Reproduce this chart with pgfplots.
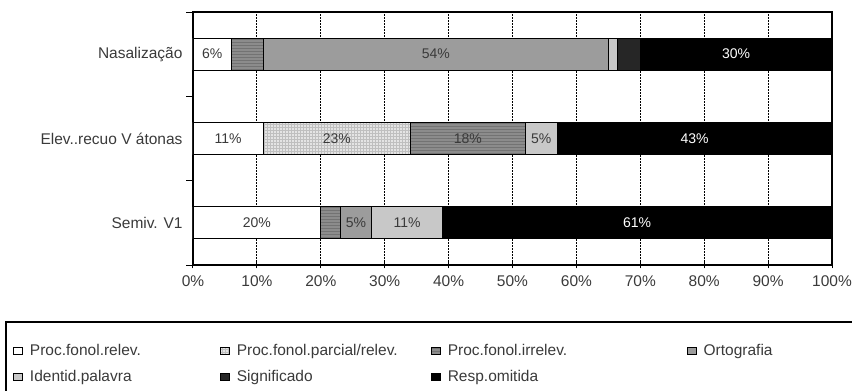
\documentclass[border=0pt]{standalone}
\usepackage{pgfplots}
\pgfplotsset{compat=1.18}
\usetikzlibrary{patterns}
\usepackage{fontspec}
\setmainfont{Liberation Sans}
\definecolor{txt}{HTML}{3A3A3A}
\definecolor{parc}{HTML}{E4E4E4}
\definecolor{irr}{HTML}{8C8C8C}
\definecolor{orto}{HTML}{9C9C9C}
\definecolor{ident}{HTML}{C8C8C8}
\definecolor{signif}{HTML}{262626}
\begin{document}
\begin{tikzpicture}[x=1pt,y=1pt]
\clip (0,0) rectangle (852,391);
\path[use as bounding box] (0,0) rectangle (852,391);
\begin{axis}[
  at={(193pt,126pt)}, anchor=south west,
  scale only axis, width=639pt, height=253pt,
  xbar stacked, bar width=0.38,
  xmin=0, xmax=100, ymin=-0.5, ymax=2.5,
  axis line style={line width=1.3pt},
  xtick={0,10,...,100},
  xticklabel={\pgfmathprintnumber{\tick}\%},
  /pgf/number format/assume math mode=true,
  ytick={-0.5,0.5,1.5,2.5}, yticklabels={},
  extra y ticks={0,1,2},
  extra y tick labels={Semiv. V1, Elev..recuo V átonas, Nasalização},
  extra y tick style={major tick length=0pt, grid=none},
  tick pos=left,
  xtick align=center, ytick align=outside,
  major tick length=7pt,
  tick style={black, line width=1pt},
  xmajorgrids,
  major grid style={black, line width=1.2pt, dash pattern=on 1.6pt off 1.4pt},
  tick label style={font=\fontsize{15.5}{17}\selectfont, text=txt},
  xticklabel style={yshift=-4pt},
  yticklabel style={xshift=-7pt},
  every axis plot/.append style={draw=black, line width=0.9pt},
  point meta=explicit symbolic,
  nodes near coords,
  every node near coord/.append style={anchor=center, font=\fontsize{14}{16}\selectfont, text=txt},
  legend columns=4,
  legend style={draw=none, fill=none, at={(axis description cs:-0.2850,-0.3055)}, anchor=north west,
     font=\fontsize{15.5}{17}\selectfont, text=txt, inner sep=0pt, row sep=9pt,
     /tikz/every even column/.append style={column sep=0pt}},
  legend cell align=left,
  legend image code/.code={\draw[#1, line width=1.1pt] (2pt,-3.5pt) rectangle (11pt,3.5pt); \path (0pt,0pt) (16pt,0pt);},
]
\addplot[fill=white] coordinates {(20,0) [20\%] (11,1) [11\%] (6,2) [6\%]};
\addlegendentry{\makebox[186pt][l]{Proc.fonol.relev.}}
\addplot[fill=parc, postaction={pattern=grid, pattern color=black!25}] coordinates {(0,0) [] (23,1) [23\%] (0,2) []};
\addlegendentry{\makebox[190pt][l]{Proc.fonol.parcial/relev.}}
\addplot[fill=irr, postaction={pattern=horizontal lines, pattern color=black!55}] coordinates {(3,0) [] (18,1) [18\%] (5,2) []};
\addlegendentry{\makebox[235pt][l]{Proc.fonol.irrelev.}}
\addplot[fill=orto] coordinates {(5,0) [5\%] (0,1) [] (54,2) [54\%]};
\addlegendentry{\makebox[120pt][l]{Ortografia}}
\addplot[fill=ident] coordinates {(11,0) [11\%] (5,1) [5\%] (1.5,2) []};
\addlegendentry{\makebox[186pt][l]{Identid.palavra}}
\addplot[fill=signif] coordinates {(0,0) [] (0,1) [] (3.5,2) []};
\addlegendentry{\makebox[190pt][l]{Significado}}
\addplot[fill=black, every node near coord/.append style={text=white}] coordinates {(61,0) [61\%] (43,1) [43\%] (30,2) [30\%]};
\addlegendentry{\makebox[235pt][l]{Resp.omitida}}
\end{axis}
\draw[line width=1.3pt] (6,-20) rectangle (900,69);
\end{tikzpicture}
\end{document}
